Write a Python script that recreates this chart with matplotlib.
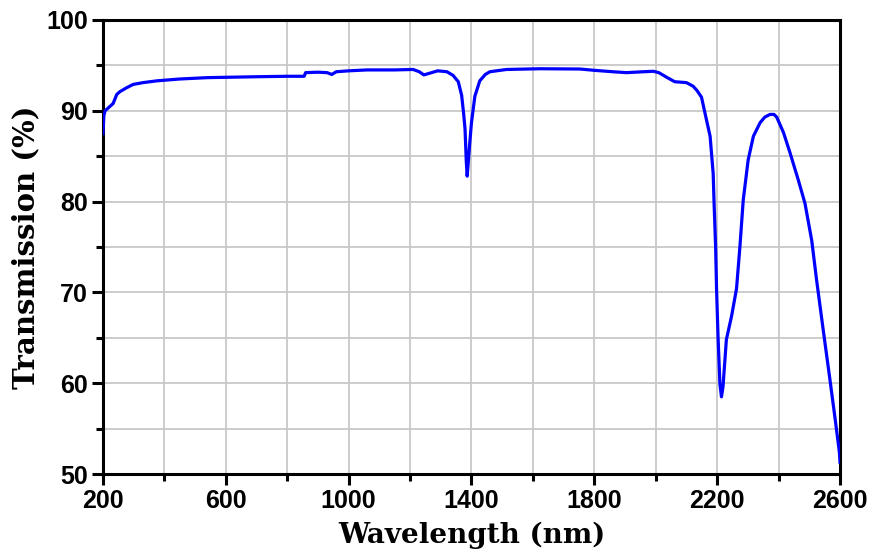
import matplotlib
matplotlib.use('Agg')
import matplotlib.pyplot as plt
from matplotlib.ticker import MultipleLocator

# values
wavelength = [200, 203, 207, 220, 233, 245, 255, 275, 298, 330, 376, 450, 540, 700, 800,
              855, 860, 900, 930, 945, 960, 1000, 1060, 1150, 1210, 1230, 1245, 1260, 1290,
              1320, 1340, 1357, 1368, 1375, 1379, 1383, 1386, 1390, 1394, 1400, 1411, 1427,
              1445, 1460, 1514, 1623, 1753, 1802, 1860, 1905, 1960, 1992, 2010, 2035, 2062,
              2100, 2122, 2135, 2149, 2160, 2177, 2187, 2190, 2195, 2198, 2203, 2209, 2214,
              2219, 2230, 2247, 2263, 2274, 2285, 2301, 2318, 2340, 2355, 2372, 2385, 2394,
              2416, 2437, 2464, 2486, 2508, 2524, 2546, 2568, 2584, 2598, 2600]
transmission = [87.5, 89.5, 90.0, 90.4, 90.8, 91.8, 92.1, 92.5, 92.9, 93.1, 93.3, 93.5, 93.65,
                93.75, 93.8, 93.8, 94.2, 94.25, 94.2, 94.0, 94.3, 94.4, 94.5, 94.5, 94.55,
                94.3, 93.95, 94.1, 94.4, 94.3, 93.9, 93.2, 91.7, 89.5, 88.0, 84.5, 82.8, 84.5,
                86.3, 88.7, 91.6, 93.3, 94.0, 94.3, 94.55, 94.63, 94.6, 94.45, 94.3, 94.2,
                94.3, 94.35, 94.2, 93.7, 93.2, 93.1, 92.7, 92.2, 91.5, 89.8, 87.2, 83.1, 79.8,
                75.0, 70.4, 65.0, 59.9, 58.5, 59.6, 64.8, 67.4, 70.4, 75.0, 80.2, 84.6, 87.2,
                88.7, 89.3, 89.6, 89.6, 89.3, 87.6, 85.4, 82.4, 79.8, 75.7, 71.3, 65.7, 60.2,
                56.1, 52.4, 51.3]
xticks = [200, 600, 1000, 1400, 1800, 2200, 2600]

fig = plt.figure(figsize=(8.74, 5.52), dpi=100)
ax = fig.add_axes([0.1178, 0.1413, 0.8433, 0.8225])

ax.plot(wavelength, transmission, color='#0000ff', linewidth=2.3, zorder=3)

ax.set_xlim(200, 2600)
ax.set_ylim(50, 100)
ax.set_xticks(xticks)
ax.xaxis.set_minor_locator(MultipleLocator(200))
ax.yaxis.set_major_locator(MultipleLocator(10))
ax.yaxis.set_minor_locator(MultipleLocator(5))

ax.grid(which='both', color='#c8c8c8', linewidth=1.3, zorder=0)
ax.set_axisbelow(True)

for s in ax.spines.values():
    s.set_linewidth(2.2)
ax.tick_params(which='major', direction='out', length=8, width=2.2,
               labelsize=18, pad=3)
ax.tick_params(which='minor', direction='out', length=5, width=2.2)
for lab in ax.get_xticklabels() + ax.get_yticklabels():
    lab.set_fontfamily('Liberation Sans')
    lab.set_fontweight('bold')

ax.set_xlabel('Wavelength (nm)', family='DejaVu Serif', fontweight='bold',
              fontsize=20, labelpad=6)
ax.set_ylabel('Transmission (%)', family='DejaVu Serif', fontweight='bold',
              fontsize=21, labelpad=4)

fig.savefig('out.png', dpi=100)
